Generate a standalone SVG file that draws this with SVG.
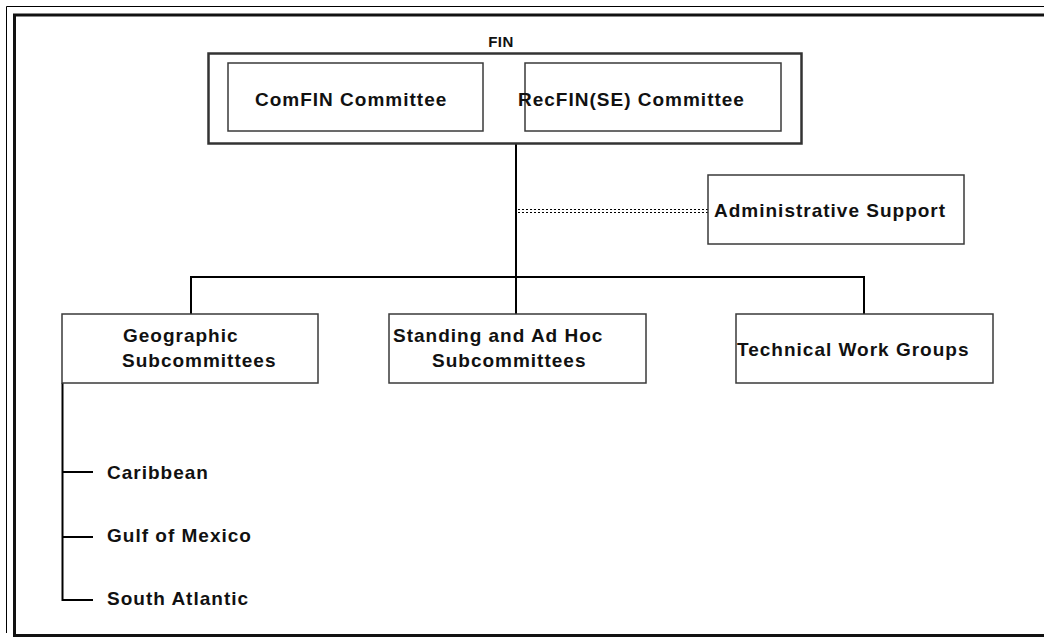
<svg xmlns="http://www.w3.org/2000/svg" width="1044" height="637" viewBox="0 0 1044 637">
<style>
.box{fill:#fff;stroke:#3a3a3a;stroke-width:1.5}
.t{font-family:"Liberation Sans",Arial,sans-serif;font-weight:bold;font-size:19px;letter-spacing:1px;fill:#111}
.c{fill:none;stroke:#000;stroke-width:2}
</style>
<rect width="1044" height="637" fill="#fff"/>
<g id="frame">
<path d="M1044 6.5H6.5V633" fill="none" stroke="#000" stroke-width="1"/>
<path d="M1044 15H14.5V635.5H1044" fill="none" stroke="#111" stroke-width="3"/>
</g>
<g id="connectors">
<path class="c" d="M516 144V277"/>
<path d="M518 209.5H708M518 212.5H708" fill="none" stroke="#000" stroke-width="1" stroke-dasharray="2,2"/>
<path class="c" d="M191 314V277H864V314M516 277V314"/>
<path class="c" d="M62.5 383V600H93M62 472H93M62 537H93"/>
<path d="M653 134V137M653 141V144" stroke="#000" stroke-width="1.5"/>
</g>
<g id="fin">
<text class="t" x="501" y="47" text-anchor="middle" style="font-size:15px;letter-spacing:0.5px">FIN</text>
<rect x="208.5" y="53.5" width="593" height="90" fill="#fff" stroke="#333" stroke-width="2.5"/>
</g>
<g id="comfin">
<rect class="box" x="228" y="63" width="255" height="68"/>
<text class="t" x="255" y="106">ComFIN Committee</text>
</g>
<g id="recfin">
<rect class="box" x="525" y="63" width="256" height="68"/>
<text class="t" x="518" y="106">RecFIN(SE) Committee</text>
</g>
<g id="admin">
<rect class="box" x="708" y="175" width="256" height="69"/>
<text class="t" x="714" y="217">Administrative Support</text>
</g>
<g id="geo">
<rect class="box" x="62" y="314" width="256" height="69"/>
<text class="t" x="123" y="342">Geographic</text>
<text class="t" x="122" y="367">Subcommittees</text>
</g>
<g id="standing">
<rect class="box" x="389" y="314" width="257" height="69"/>
<text class="t" x="393" y="342">Standing and Ad Hoc</text>
<text class="t" x="432" y="367">Subcommittees</text>
</g>
<g id="technical">
<rect class="box" x="736" y="314" width="257" height="69"/>
<text class="t" x="737" y="356">Technical Work Groups</text>
</g>
<g id="caribbean"><text class="t" x="107" y="479">Caribbean</text></g>
<g id="gulf"><text class="t" x="107" y="542">Gulf of Mexico</text></g>
<g id="southatlantic"><text class="t" x="107" y="605">South Atlantic</text></g>
</svg>
